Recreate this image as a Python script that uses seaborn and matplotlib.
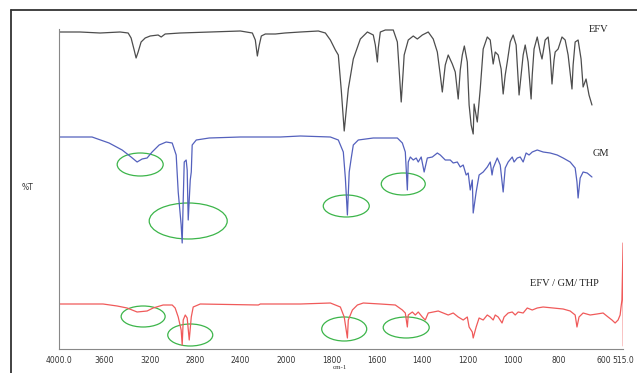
import matplotlib
matplotlib.use("Agg")
import matplotlib.pyplot as plt
import matplotlib.transforms as mtransforms
from matplotlib.patches import Ellipse
from matplotlib.lines import Line2D
from matplotlib.ticker import FixedLocator, NullFormatter
import seaborn as sns
import pandas as pd
import numpy as np

# wavenumbers (cm-1) and offset transmittance (arbitrary units)
efv_wn = [4000, 3815, 3638, 3462, 3391, 3365, 3338, 3321, 3303, 3277, 3241, 3197, 3127, 3100, 3065,
          2933, 2668, 2403, 2297, 2271, 2253, 2236, 2218, 2183, 2094, 2010, 1937, 1858, 1827, 1805,
          1783, 1770, 1757, 1744, 1735, 1726, 1704, 1673, 1642, 1616, 1607, 1598, 1594, 1585, 1563,
          1528, 1510, 1502, 1493, 1484, 1480, 1462, 1440, 1422, 1400, 1374, 1352, 1334, 1321, 1312,
          1304, 1299, 1286, 1268, 1255, 1242, 1233, 1224, 1215, 1202, 1194, 1185, 1176, 1172, 1158,
          1145, 1132, 1114, 1101, 1088, 1079, 1066, 1053, 1044, 1035, 1026, 1013, 1000, 987, 974,
          965, 956, 947, 934, 921, 916, 908, 894, 881, 873, 859, 846, 837, 829, 820, 815, 802, 785,
          771, 758, 741, 736, 727, 714, 701, 692, 679, 666, 653]
efv_t = [317, 317, 316, 317, 316, 311, 299, 291, 297, 307, 311, 313, 314, 312, 315,
         316, 317, 318, 316, 309, 293, 304, 313, 315, 315, 316, 317, 318, 316, 309,
         299, 294, 259, 218, 239, 260, 290, 310, 317, 314, 304, 287, 301, 317, 319,
         319, 307, 279, 247, 279, 294, 309, 313, 310, 314, 317, 310, 297, 274, 257,
         274, 284, 294, 285, 277, 250, 279, 294, 303, 287, 244, 224, 215, 245, 227,
         260, 300, 312, 309, 285, 297, 294, 280, 255, 274, 287, 307, 314, 304, 254,
         274, 294, 304, 287, 250, 274, 300, 312, 297, 290, 309, 312, 294, 265, 289, 297, 300, 312,
         309, 294, 260, 284, 307, 309, 290, 262, 270, 254, 244]

gm_wn = [4000, 3709, 3559, 3444, 3365, 3312, 3268, 3224, 3180, 3118, 3056, 3003, 2968, 2950, 2924,
         2915, 2906, 2897, 2880, 2871, 2862, 2844, 2835, 2827, 2791, 2677, 2403, 2050, 1937, 1805,
         1770, 1748, 1739, 1730, 1722, 1713, 1704, 1682, 1616, 1510, 1488, 1475, 1466, 1462, 1453,
         1440, 1427, 1418, 1405, 1392, 1378, 1356, 1334, 1321, 1299, 1277, 1264, 1246, 1233, 1220,
         1207, 1198, 1189, 1180, 1176, 1163, 1150, 1132, 1114, 1101, 1093, 1088, 1070, 1057, 1044,
         1035, 1022, 1004, 996, 982, 969, 956, 943, 930, 916, 894, 868, 837, 806, 780, 749, 727,
         719, 714, 705, 692, 674, 653]
gm_t = [212, 212, 206, 199, 192, 187, 190, 191, 197, 204, 207, 206, 194, 157, 124,
        106, 149, 187, 189, 179, 129, 169, 177, 204, 209, 211, 212, 212, 213, 212,
        209, 197, 171, 134, 177, 191, 204, 209, 211, 211, 206, 197, 159, 187, 192,
        189, 191, 187, 192, 177, 191, 192, 196, 194, 189, 189, 186, 187, 182, 184,
        174, 176, 159, 169, 136, 157, 174, 177, 182, 187, 174, 181, 191, 184, 157,
        181, 187, 192, 187, 191, 192, 187, 196, 194, 197, 199, 197, 196, 194, 191, 187, 181,
        167, 151, 171, 177, 176, 172]

mix_wn = [4000, 3612, 3488, 3400, 3312, 3224, 3171, 3083, 3003, 2977, 2950, 2924, 2915, 2906, 2888,
          2871, 2853, 2835, 2818, 2756, 2244, 2227, 1937, 1805, 1761, 1744, 1730, 1726, 1708, 1686,
          1660, 1585, 1519, 1488, 1475, 1466, 1462, 1444, 1431, 1418, 1400, 1387, 1374, 1352, 1330,
          1308, 1286, 1264, 1242, 1220, 1202, 1194, 1180, 1176, 1163, 1150, 1132, 1114, 1101, 1088,
          1079, 1066, 1049, 1040, 1022, 1004, 991, 978, 956, 938, 916, 894, 868, 824, 780, 749,
          727, 719, 710, 692, 661, 631, 604, 582, 565, 551, 538, 529, 525, 521, 516, 515]
mix_t = [45, 45, 43, 41, 37, 38, 41, 44, 44, 41, 32, 19, 4, 29, 34,
         31, 9, 32, 42, 45, 44, 45, 45, 46, 42, 32, 11, 29, 39, 44,
         46, 45, 44, 39, 36, 22, 34, 37, 34, 37, 32, 29, 36, 37, 38,
         36, 34, 36, 32, 29, 32, 22, 17, 11, 22, 31, 29, 34, 32, 29,
         34, 32, 26, 32, 36, 37, 34, 37, 36, 41, 39, 41, 42, 41, 40, 38,
         34, 22, 32, 36, 34, 35, 36, 32, 29, 26, 29, 34, 42, 49, 106, 3]

# green highlight rings: centre (cm-1, offset T) and size (inches)
ring_wn = [3285, 2862, 1735, 1484, 3259, 2844, 1744, 1471]
ring_t = [184.5, 128, 143, 165, 32.5, 14, 20, 21.5]
ring_w = [0.46, 0.78, 0.46, 0.44, 0.44, 0.45, 0.45, 0.46]
ring_h = [0.23, 0.36, 0.22, 0.22, 0.21, 0.22, 0.24, 0.21]

xticks = [4000, 3600, 3200, 2800, 2400, 2000, 1800, 1600, 1400, 1200, 1000, 800, 600, 515]
xtick_labels = ["4000.0", "3600", "3200", "2800", "2400", "2000", "1800", "1600", "1400",
                "1200", "1000", "800", "600", "515.0"]

df = pd.concat([
    pd.DataFrame({"wn": efv_wn, "T": efv_t, "sample": "EFV"}),
    pd.DataFrame({"wn": gm_wn, "T": gm_t, "sample": "GM"}),
    pd.DataFrame({"wn": mix_wn, "T": mix_t, "sample": "EFV / GM/ THP"}),
])

sns.set_style("white")

fig = plt.figure(figsize=(6.37, 3.73), dpi=100)
ax = fig.add_axes([59 / 637, 23.7 / 373, 564.3 / 637, 320 / 373])


# spectrometer style axis: the region below 2000 cm-1 is stretched x2
def fwd(x):
    x = np.asarray(x, dtype=float)
    return np.where(x > 2000, 2000 + (x - 2000) / 2, x)


def inv(y):
    y = np.asarray(y, dtype=float)
    return np.where(y > 2000, 2000 + (y - 2000) * 2, y)


ax.set_xscale("function", functions=(fwd, inv))

sns.lineplot(data=df, x="wn", y="T", hue="sample", sort=False, estimator=None,
             palette={"EFV": "#4d4d4d", "GM": "#5461bd", "EFV / GM/ THP": "#f05a5a"},
             linewidth=0.9, legend=False, ax=ax)

ax.set_xlim(4000, 515)
ax.set_ylim(-0.3, 319.7)

ax.xaxis.set_major_locator(FixedLocator(xticks))
ax.set_xticklabels(xtick_labels)
ax.xaxis.set_minor_formatter(NullFormatter())
ax.yaxis.set_major_locator(FixedLocator(10.4 + 14.73 * np.arange(22)))
ax.set_yticklabels([])
ax.tick_params(axis="both", direction="out", length=3, width=0.6, color="#777777",
               labelsize=5.5, labelcolor="#333333", pad=2)
ax.tick_params(axis="x", which="minor", length=0)

for side in ["top", "right"]:
    ax.spines[side].set_visible(False)
for side in ["left", "bottom"]:
    ax.spines[side].set_color("#888888")
    ax.spines[side].set_linewidth(0.8)

ax.set_xlabel("cm-1", fontsize=5, family="Liberation Serif", color="#333333")
ax.xaxis.set_label_coords(0.497, -0.048)
ax.set_ylabel("%T", fontsize=5.5, rotation=0, color="#333333")
ax.yaxis.set_label_coords(-0.055, 0.49)

# trace names
serif = dict(family="Liberation Serif", fontsize=7.5, color="#222222", ha="center", va="center")
ax.text(626, 320, "EFV", **serif)
ax.text(613, 195, "GM", **serif)
ax.text(776, 66, "EFV / GM/ THP", **serif)

# green rings around the bands of interest
for wn, t, w, h in zip(ring_wn, ring_t, ring_w, ring_h):
    trans = fig.dpi_scale_trans + mtransforms.ScaledTranslation(wn, t, ax.transData)
    ax.add_patch(Ellipse((0, 0), w, h, transform=trans, fill=False,
                         edgecolor="#3cb54a", linewidth=0.9, clip_on=False))

# outer frame of the original figure
fig.add_artist(Line2D([11 / 637, 11 / 637], [0, 1 - 10 / 373], transform=fig.transFigure,
                      color="#333333", linewidth=1.3))
fig.add_artist(Line2D([11 / 637, 1], [1 - 10 / 373, 1 - 10 / 373], transform=fig.transFigure,
                      color="#333333", linewidth=1.3))

fig.savefig("out.png", dpi=100)
